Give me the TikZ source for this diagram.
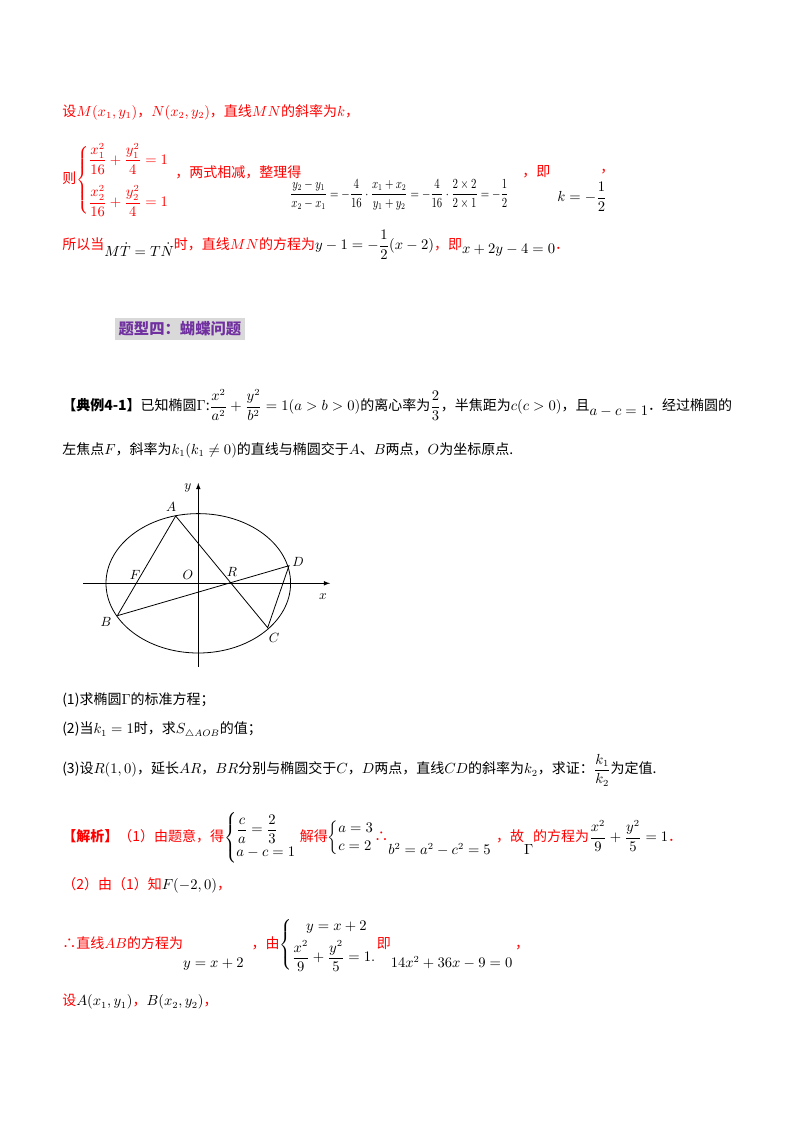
\documentclass[tikz,border=0pt]{standalone}
\usepackage{amsmath,amssymb}
\usepackage{fontspec}
\setmainfont{Noto Sans CJK SC}
\definecolor{hpurple}{HTML}{7030A0}
\begin{document}
\begin{tikzpicture}[x=0.75pt,y=-0.75pt,
  txt/.style={anchor=west,inner sep=0,font=\fontsize{10.5}{13}\selectfont},
  rtxt/.style={txt,text=red},
  lbl/.style={inner sep=1pt,font=\fontsize{10}{12}\selectfont}]
\useasboundingbox (0,0) rectangle (800,1132);
% ---- top solution lines
\node[rtxt] (l1) at (62,112) {设$M(x_1,y_1)$，$N(x_2,y_2)$，直线$MN$的斜率为$k$，};
\node[rtxt] (l2a) at (62,180) {则$\left\{\begin{array}{@{}l@{}}\dfrac{x_1^2}{16}+\dfrac{y_1^2}{4}=1\\[12pt]\dfrac{x_2^2}{16}+\dfrac{y_2^2}{4}=1\end{array}\right.$};
\node[rtxt] (l2b) at (175,172) {，两式相减，整理得};
\node[txt] (l2c) at (290,195) {\scalebox{0.74}[0.95]{$\dfrac{y_2-y_1}{x_2-x_1}=-\dfrac{4}{16}\cdot\dfrac{x_1+x_2}{y_1+y_2}=-\dfrac{4}{16}\cdot\dfrac{2\times2}{2\times1}=-\dfrac12$}};
\node[rtxt] (l2d) at (522,172) {，即};
\node[txt] (l2e) at (557,197) {$k=-\dfrac12$};
\node[rtxt] (l2f) at (600,172) {，};
\node[rtxt] (l3) at (62,245) {所以当\raisebox{-5pt}{\color{black}$M\dot{T}=T\dot{N}$}时，直线$MN$的方程为{\color{black}$y-1=-\dfrac12(x-2)$}，即\raisebox{-3pt}{\color{black}$x+2y-4=0$}．};
% ---- heading
\node[txt,fill=black!15,inner sep=2.5pt,text=hpurple,font=\fontsize{11.5}{14}\selectfont\bfseries] (hd) at (115,329) {题型四：蝴蝶问题};
% ---- problem
\node[txt] (p1) at (62,405) {\textbf{【典例4-1】}已知椭圆$\Gamma$:$\dfrac{x^2}{a^2}+\dfrac{y^2}{b^2}=1(a>b>0)$的离心率为$\dfrac23$，半焦距为$c(c>0)$，且\raisebox{-4pt}{$a-c=1$}．经过椭圆的};
\node[txt] (p2) at (62,450) {左焦点$F$，斜率为$k_1(k_1\neq0)$的直线与椭圆交于$A$、$B$两点，$O$为坐标原点.};
% ---- figure
\coordinate (Oc) at (198.3,583.3);
\draw[line width=0.6pt] (Oc) ellipse [x radius=92.3, y radius=69.7];
\draw[line width=0.6pt,-latex] (83,583.3) -- (330,583.3);
\draw[line width=0.6pt,-latex] (198.3,666.7) -- (198.3,483);
\coordinate (A) at (175.7,516);
\coordinate (B) at (117.3,615.7);
\coordinate (C) at (267.7,627.7);
\coordinate (D) at (289,565.7);
\coordinate (R) at (229,583.3);
\draw[line width=0.6pt] (B) -- (A) -- (C) -- (D) -- (B);
\node[lbl] (nA) at (171,507) {$A$};
\node[lbl] (nB) at (106,622) {$B$};
\node[lbl] (nC) at (274,638) {$C$};
\node[lbl] (nD) at (298,562) {$D$};
\node[lbl] (nF) at (135,575) {$F$};
\node[lbl] (nO) at (188,575) {$O$};
\node[lbl] (nR) at (232,572) {$R$};
\node[lbl] (nx) at (323,597) {$x$};
\node[lbl] (ny) at (188,488) {$y$};
% ---- questions
\node[txt] (q1) at (62,700) {(1)求椭圆$\Gamma$的标准方程；};
\node[txt] (q2) at (62,730) {(2)当$k_1=1$时，求$S_{\triangle AOB}$的值；};
\node[txt] (q3) at (62,770) {(3)设$R(1,0)$，延长$AR$，$BR$分别与椭圆交于$C$，$D$两点，直线$CD$的斜率为$k_2$，求证：$\dfrac{k_1}{k_2}$为定值.};
% ---- analysis
\node[rtxt] (s1) at (62,838) {\textbf{【解析】}（1）由题意，得{\color{black}$\left\{\begin{array}{@{}l@{}}\dfrac ca=\dfrac23\\[2pt] a-c=1\end{array}\right.$} 解得{\color{black}$\left\{\begin{array}{@{}l@{}}a=3\\ c=2\end{array}\right.$}∴\raisebox{-10pt}{\color{black}$b^2=a^2-c^2=5$}\hspace{4pt}，故\raisebox{-10pt}{\color{black}$\Gamma$}的方程为{\color{black}$\dfrac{x^2}{9}+\dfrac{y^2}{5}=1$}．};
\node[rtxt] (s2) at (62,885) {（2）由（1）知{\color{black}$F(-2,0)$}，};
\node[rtxt] (s3) at (62,945) {∴直线$AB$的方程为\raisebox{-14pt}{\color{black}$y=x+2$}\hspace{6pt}，由{\color{black}$\left\{\begin{array}{@{}l@{}}\quad y=x+2\\[4pt]\dfrac{x^2}{9}+\dfrac{y^2}{5}=1.\end{array}\right.$}即\raisebox{-14pt}{\color{black}$14x^2+36x-9=0$}\hspace{2pt}，};
\node[rtxt] (s4) at (62,1002) {设{\color{black}$A(x_1,y_1)$}，{\color{black}$B(x_2,y_2)$}，};
\end{tikzpicture}
\end{document}
